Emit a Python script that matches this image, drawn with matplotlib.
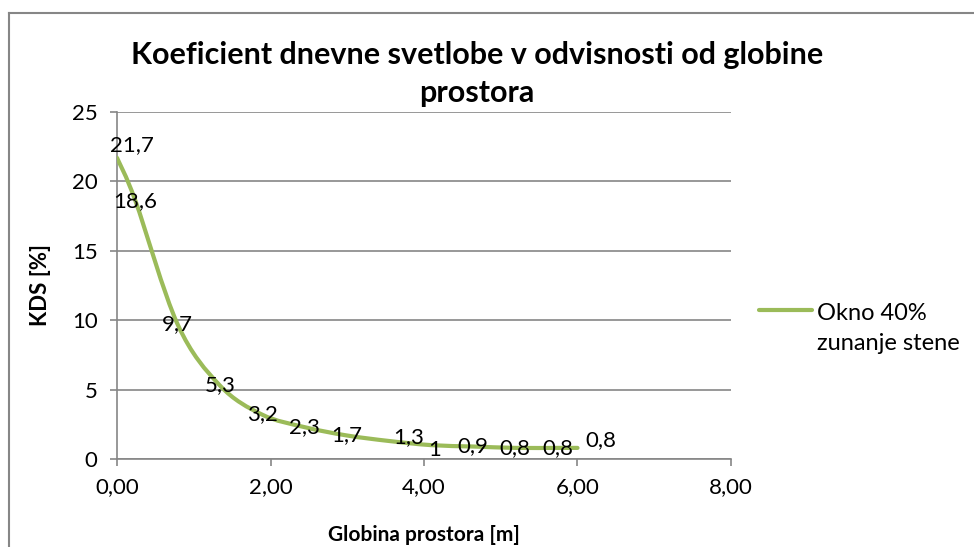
import matplotlib.pyplot as plt
import numpy as np
from matplotlib.path import Path
from matplotlib.patches import PathPatch
from matplotlib.lines import Line2D

plt.rcParams['font.family'] = ['Lato', 'DejaVu Sans']

depth = [0.0, 0.24, 0.79, 1.34, 1.89, 2.44, 2.99, 3.54, 4.09, 4.64, 5.19, 5.74, 6.0]
kds = [21.7, 18.6, 9.7, 5.3, 3.2, 2.3, 1.7, 1.3, 1.0, 0.9, 0.8, 0.8, 0.8]
series_name = "Okno 40%\nzunanje stene"
green = "#9BBB59"
grid_col = "#868686"

# pixel nudges for the labels that were moved off their points
label_shift = {0: (15, 13), 7: (20, 4), 8: (4, -5), 12: (23, 8)}


def fmt(v):
    return ("%g" % v).replace(".", ",")


def smooth_path(x, y):
    # Excel-style smoothed line: cubic Bezier through every point
    pts = np.column_stack([x, y])
    verts = [pts[0]]
    codes = [Path.MOVETO]
    n = len(pts)
    for i in range(n - 1):
        p0 = pts[i - 1] if i > 0 else pts[i]
        p1 = pts[i]
        p2 = pts[i + 1]
        p3 = pts[i + 2] if i + 2 < n else pts[i + 1]
        c1 = p1 + (p2 - p0) / 6.0
        c2 = p2 - (p3 - p1) / 6.0
        verts += [c1, c2, p2]
        codes += [Path.CURVE4] * 3
    return Path(verts, codes)


fig = plt.figure(figsize=(9.74, 5.47), dpi=100)
ax = fig.add_axes([117 / 974, 1 - 459 / 547, (731 - 117) / 974, (459 - 112) / 547])

patch = PathPatch(smooth_path(depth, kds), facecolor="none", edgecolor=green,
                  lw=3.0, capstyle="round", joinstyle="round", zorder=3)
ax.add_patch(patch)

for i, (x, y) in enumerate(zip(depth, kds)):
    dx, dy = label_shift.get(i, (0, 0))
    ax.annotate(fmt(y), (x, y), xytext=(dx, dy), textcoords="offset pixels",
                ha="center", va="center", fontsize=16, zorder=4)

ax.set_xlim(0, 8)
ax.set_ylim(0, 25)
ax.set_xticks([0, 2, 4, 6, 8])
ax.set_xticklabels(["0,00", "2,00", "4,00", "6,00", "8,00"])
ax.set_yticks([0, 5, 10, 15, 20, 25])
ax.grid(axis="y", color=grid_col, lw=1.2)
ax.set_axisbelow(True)
for s in ["top", "right"]:
    ax.spines[s].set_visible(False)
for s in ["left", "bottom"]:
    ax.spines[s].set_color(grid_col)
    ax.spines[s].set_linewidth(1.2)
ax.tick_params(axis="both", colors=grid_col, labelcolor="black", labelsize=16,
               length=5, width=1.2)
ax.tick_params(axis="x", pad=8)
ax.tick_params(axis="y", pad=9)

ax.set_xlabel("Globina prostora [m]", fontsize=15, fontweight="bold", labelpad=20)
ax.set_ylabel("KDS [%]", fontsize=16, fontweight="bold", labelpad=15)

fig.text(477 / 974, 1 - 74 / 547,
         "Koeficient dnevne svetlobe v odvisnosti od globine\nprostora",
         ha="center", va="center", fontsize=22, fontweight="bold", linespacing=1.45)

# legend drawn by hand so the swatch sits on the first text line
ly = 1 - 310 / 547
fig.add_artist(Line2D([759 / 974, 812 / 974], [ly, ly], color=green, lw=3.0,
                      solid_capstyle="round"))
fig.text(817 / 974, ly + 7 / 547, series_name, ha="left", va="top", fontsize=17,
         linespacing=1.5)

# chart frame (only top and left edges fall inside the crop)
fig.add_artist(Line2D([9 / 974, 1.0], [1 - 13 / 547] * 2, color=grid_col, lw=1.5))
fig.add_artist(Line2D([9 / 974] * 2, [0, 1 - 13 / 547], color=grid_col, lw=1.5))

fig.savefig("out.png", dpi=100)
